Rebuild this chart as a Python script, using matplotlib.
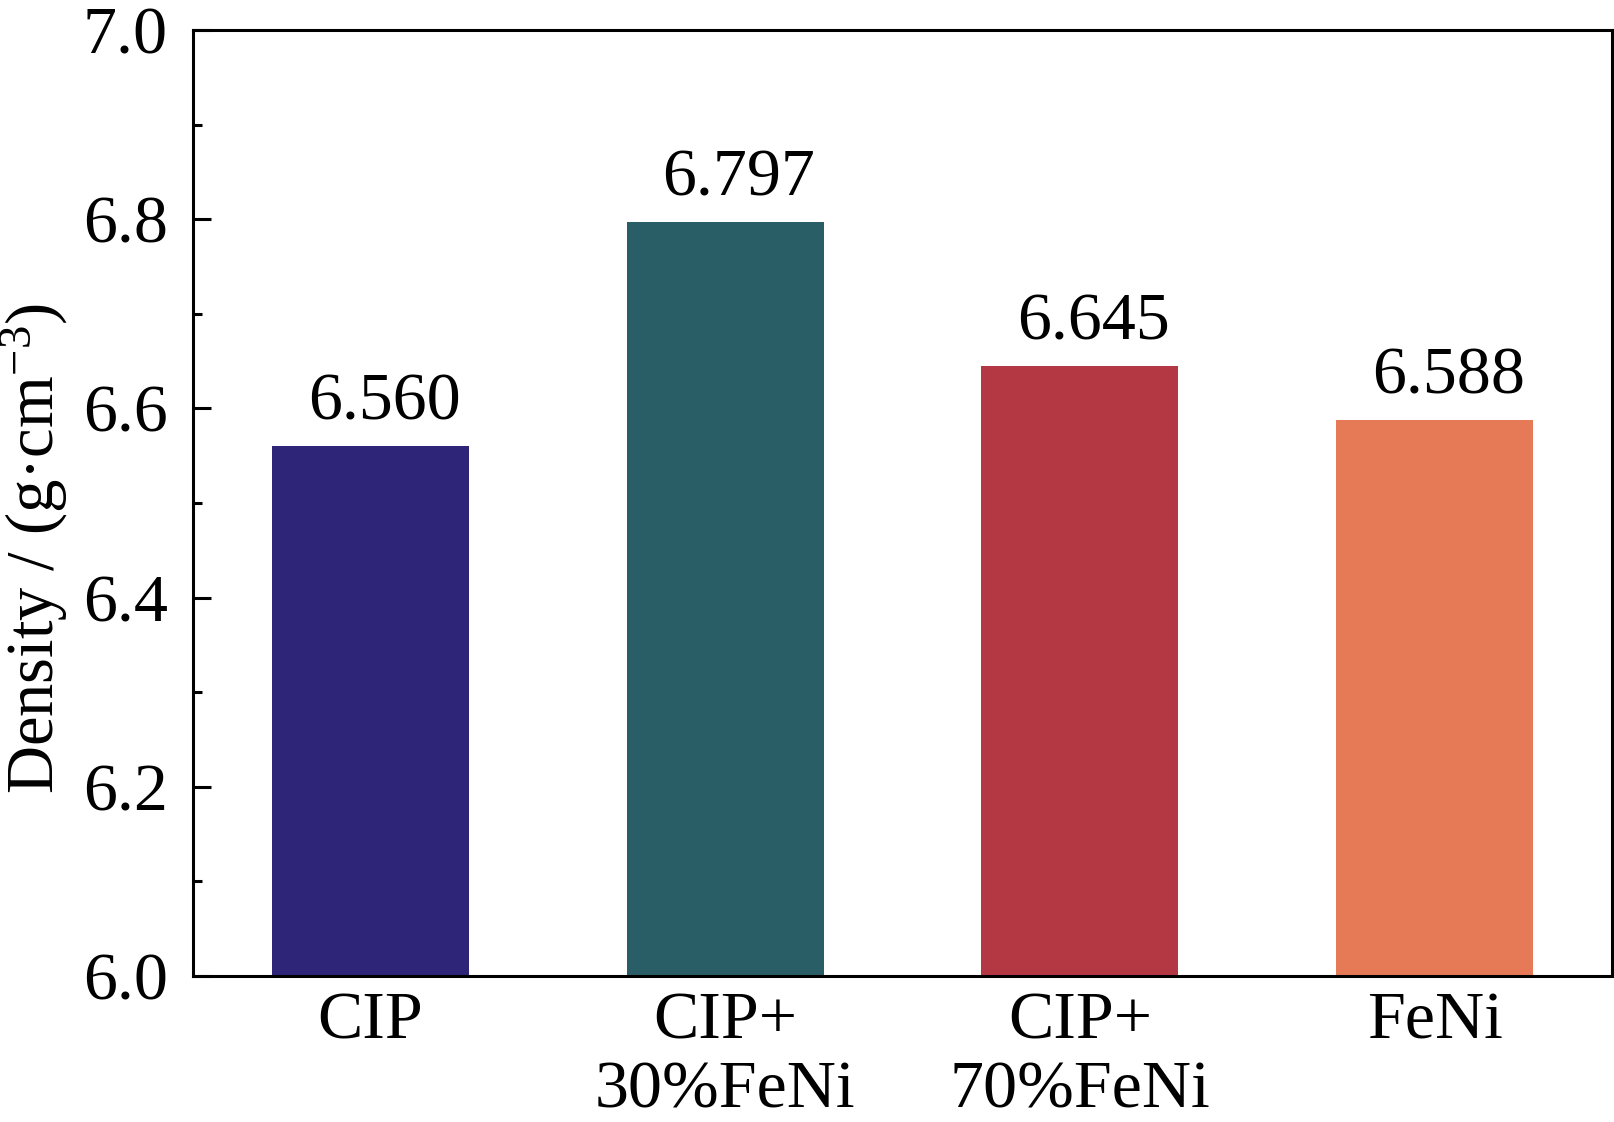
import matplotlib
matplotlib.use('Agg')
import matplotlib.pyplot as plt
from matplotlib.ticker import MultipleLocator

# 数据
samples = ['CIP', 'CIP+\n30%FeNi', 'CIP+\n70%FeNi', 'FeNi']
density = [6.560, 6.797, 6.645, 6.588]
value_labels = ['6.560', '6.797', '6.645', '6.588']
bar_colors = ['#2E2478', '#2A5E66', '#B43844', '#E77A56']

plt.rcParams['font.family'] = ['Liberation Serif', 'DejaVu Serif']
plt.rcParams['mathtext.fontset'] = 'custom'
plt.rcParams['mathtext.rm'] = 'Liberation Serif'
plt.rcParams['mathtext.it'] = 'Liberation Serif:italic'

fig = plt.figure(figsize=(16.15, 11.22), dpi=100)
ax = fig.add_axes([0.1195, 0.1301, 0.8786, 0.8432])

x = range(len(samples))
ax.bar(x, density, width=0.555, color=bar_colors, zorder=2)

# 柱顶数值
for xi, val, lab in zip(x, density, value_labels):
    ax.annotate(lab, (xi, val), xytext=(10, 9), textcoords='offset points',
                ha='center', va='bottom', fontsize=49)

ax.set_xlim(-0.5, 3.5)
ax.set_ylim(6.0, 7.0)
ax.set_xticks(list(x))
ax.set_xticklabels(samples, fontsize=49, linespacing=1.17)
ax.yaxis.set_major_locator(MultipleLocator(0.2))
ax.yaxis.set_minor_locator(MultipleLocator(0.1))
ax.yaxis.set_major_formatter(matplotlib.ticker.FormatStrFormatter('%.1f'))

ax.tick_params(axis='y', which='major', direction='in', length=13, width=2.2,
               labelsize=49, pad=18)
ax.tick_params(axis='y', which='minor', direction='in', length=6.5, width=2.2)
ax.tick_params(axis='x', length=0, pad=11)

for sp in ax.spines.values():
    sp.set_linewidth(2.2)

ax.set_ylabel(r'Density / (g·cm$^{\mathrm{-3}}$)', fontsize=48)
ax.yaxis.set_label_coords(-0.087, 0.452)

fig.savefig('out.png', dpi=100)
